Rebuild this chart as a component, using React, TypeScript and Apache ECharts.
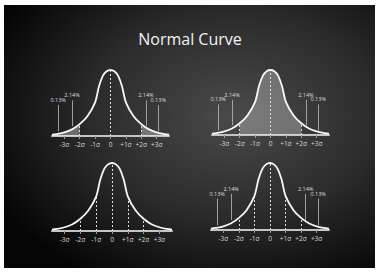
import React, { useEffect, useRef } from "react";
import * as echarts from "echarts";

// ---- data ----
const curveX = [-3.8, -3.5, -3, -2.5, -2, -1.5, -1, -0.75, -0.5, -0.25, 0, 0.25, 0.5, 0.75, 1, 1.5, 2, 2.5, 3, 3.5, 3.8];
const curveY = [0.02, 0.03, 0.055, 0.1, 0.18, 0.3, 0.51, 0.75, 0.91, 0.98, 1.0, 0.98, 0.91, 0.75, 0.51, 0.3, 0.18, 0.1, 0.055, 0.03, 0.02];
const tickValues = [-3, -2, -1, 0, 1, 2, 3];
const tickLabels = ["-3σ", "-2σ", "-1σ", "0", "+1σ", "+2σ", "+3σ"];
const pctLabels = ["0.13%", "2.14%", "2.14%", "0.13%"];
const pctX = [-3.4, -2.5, 2.3, 3.1];
const pctTop = [0.47, 0.54, 0.54, 0.47];
const pctBottom = [0.07, 0.15, 0.15, 0.07];
const dashTop = [-2, 0, 2];
const dashBottom = [-2, -1, 0, 1, 2];
const titleText = "Normal Curve";

const grids = [
  { left: 52, top: 70, width: 117, height: 66 },
  { left: 212, top: 70, width: 117, height: 65 },
  { left: 52, top: 163, width: 120, height: 68 },
  { left: 211, top: 163, width: 118, height: 67 },
];
const shades = ["tails", "center", "none", "none"];
const dashes = [dashTop, dashTop, dashBottom, dashBottom];
const showPct = [true, true, false, true];

const pts = curveX.map((x, i) => [x, curveY[i]]);
const yAt = (x: number) => curveY[curveX.indexOf(x)];
const FONT = "'Open Sans', 'Noto Sans', sans-serif";

export default function App() {
  const ref = useRef<HTMLDivElement>(null);
  useEffect(() => {
    if (!ref.current) return;
    const chart = echarts.init(ref.current, null, { renderer: "svg" });
    const xAxes: any[] = [];
    const yAxes: any[] = [];
    const series: any[] = [];
    grids.forEach((g, i) => {
      xAxes.push({
        type: "value",
        gridIndex: i,
        min: -3.8,
        max: 3.8,
        axisLine: { show: true, lineStyle: { color: "#c4c4c4", width: 2 } },
        axisTick: { show: true, customValues: tickValues, length: 3, lineStyle: { color: "#9a9a9a", width: 1 } },
        axisLabel: {
          show: true,
          customValues: tickValues,
          margin: 5,
          color: "#d8d8d8",
          fontSize: 6.5,
          fontFamily: FONT,
          formatter: (v: number) => {
            const k = tickValues.indexOf(Number(v));
            return k >= 0 ? tickLabels[k] : "";
          },
        },
        splitLine: { show: false },
      });
      yAxes.push({ type: "value", gridIndex: i, min: 0, max: 1, show: false, splitLine: { show: false } });

      const mlData: any[] = dashes[i].map((x) => [
        { coord: [x, 0], lineStyle: { type: [2, 2], color: "#dcdcdc", width: 1 }, label: { show: false } },
        { coord: [x, yAt(x)] },
      ]);
      if (showPct[i]) {
        pctX.forEach((x, k) => {
          mlData.push([
            {
              coord: [x, pctBottom[k]],
              lineStyle: { type: "solid", color: "#bdbdbd", width: 0.8 },
              label: {
                show: true,
                position: "end",
                distance: 2,
                formatter: pctLabels[k],
                color: "#dddddd",
                fontSize: 5.5,
                fontFamily: FONT,
              },
            },
            { coord: [x, pctTop[k]] },
          ]);
        });
      }

      if (shades[i] === "tails") {
        [pts.filter((p) => p[0] <= -2), pts.filter((p) => p[0] >= 2)].forEach((d) => {
          series.push({
            type: "line", xAxisIndex: i, yAxisIndex: i, data: d, smooth: 0.3, showSymbol: false,
            lineStyle: { width: 0 }, areaStyle: { color: "rgba(255,255,255,0.32)", opacity: 1 }, z: 2, silent: true,
          });
        });
      } else if (shades[i] === "center") {
        series.push({
          type: "line", xAxisIndex: i, yAxisIndex: i, data: pts.filter((p) => p[0] >= -2 && p[0] <= 2),
          smooth: 0.3, showSymbol: false, lineStyle: { width: 0 },
          areaStyle: { color: "rgba(255,255,255,0.28)", opacity: 1 }, z: 2, silent: true,
        });
      }

      series.push({
        type: "line",
        xAxisIndex: i,
        yAxisIndex: i,
        data: pts,
        smooth: 0.3,
        showSymbol: false,
        silent: true,
        lineStyle: { color: "#f7f7f7", width: 1.8 },
        z: 5,
        markLine: { silent: true, symbol: ["none", "none"], data: mlData, animation: false },
      });
    });

    chart.setOption({
      animation: false,
      backgroundColor: "#ffffff",
      title: {
        text: titleText,
        left: "center",
        top: 26,
        textStyle: { color: "#f2f2f2", fontSize: 16, fontWeight: "normal", fontFamily: FONT },
      },
      graphic: [
        {
          type: "rect",
          z: -10,
          silent: true,
          shape: { x: 4, y: 5, width: 371, height: 263 },
          style: {
            fill: new echarts.graphic.RadialGradient(0.62, 0.42, 0.72, [
              { offset: 0, color: "#4a4a4a" },
              { offset: 0.55, color: "#2a2a2a" },
              { offset: 1, color: "#050505" },
            ]),
          },
        },
      ],
      grid: grids.map((g) => ({ ...g, containLabel: false })),
      xAxis: xAxes,
      yAxis: yAxes,
      series,
    });
    return () => chart.dispose();
  }, []);
  return (
    <div
      ref={ref}
      style={{ position: "absolute", left: 0, top: 0, width: 380, height: 275 }}
    />
  );
}
